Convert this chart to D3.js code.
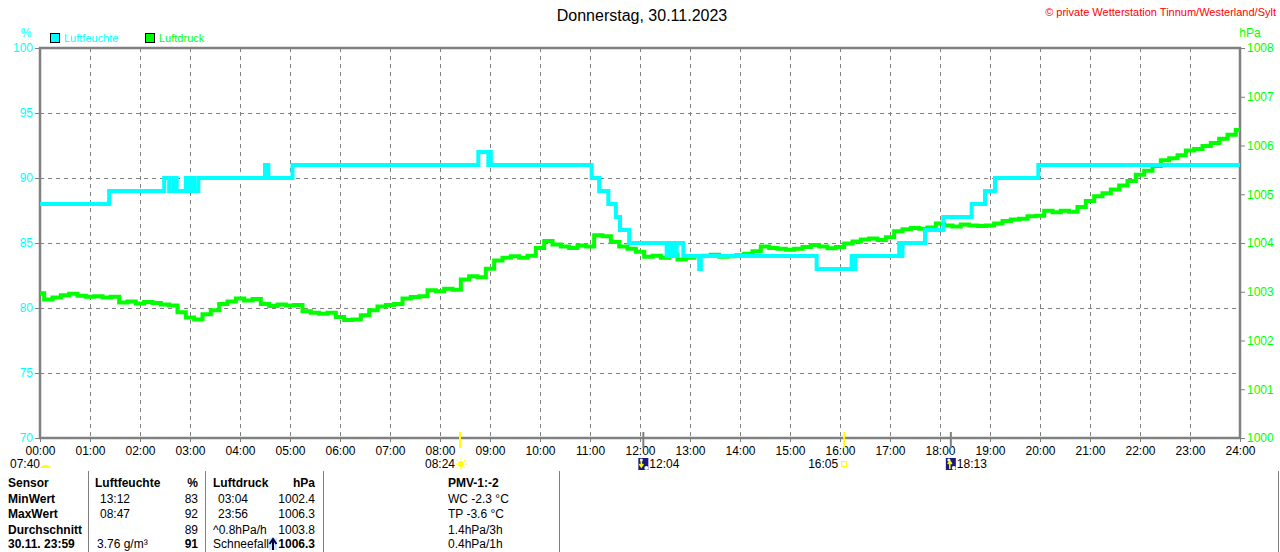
<!DOCTYPE html>
<html>
<head>
<meta charset="utf-8">
<script src="https://cdn.jsdelivr.net/npm/d3@7"></script>
<style>
  body { margin: 0; background: #fff; }
  svg { display: block; font-family: "Liberation Sans", Arial, sans-serif; }
</style>
</head>
<body>
<svg id="chart" width="1280" height="552"></svg>
<script>
// humidity steps (time, %)
const humTimes = ["00:00","01:23","02:29","02:35","02:40","02:44","02:55","02:58","03:01","03:05","03:10",
  "04:30","04:34","05:03","08:46","08:58","08:59","09:01","11:02","11:11","11:22","11:31","11:36","11:47",
  "12:32","12:34","12:36","12:38","12:41","12:44","12:52","12:58","13:11","13:13","15:32","16:14","16:16","16:18",
  "17:11","17:13","17:15","17:42","18:04","18:38","18:54","19:06","19:58","24:00"];
const humVals = [88,89,90,89,90,89,90,89,90,89,90,
  91,90,91,92,91,92,91,90,89,88,87,86,85,
  84,85,84,85,84,85,84,84,83,84,83,84,83,84,
  85,84,85,86,87,88,89,90,91,91];

// pressure, one value every 10 minutes from 00:00 to 24:00 (hPa)
const pressVals = [
  1002.97,1002.84,1002.88,1002.93,1002.96,1002.92,
  1002.90,1002.91,1002.88,1002.90,1002.78,1002.80,
  1002.76,1002.79,1002.77,1002.74,1002.72,1002.58,
  1002.47,1002.43,1002.54,1002.62,1002.75,1002.80,
  1002.86,1002.82,1002.85,1002.75,1002.71,1002.74,
  1002.72,1002.73,1002.60,1002.57,1002.55,1002.57,
  1002.48,1002.42,1002.43,1002.52,1002.62,1002.70,
  1002.73,1002.75,1002.86,1002.89,1002.91,1003.03,
  1003.01,1003.06,1003.04,1003.25,1003.32,1003.30,
  1003.47,1003.64,1003.70,1003.73,1003.70,1003.74,
  1003.90,1004.04,1003.97,1003.93,1003.90,1003.95,
  1003.93,1004.16,1004.14,1004.02,1003.93,1003.88,
  1003.82,1003.72,1003.74,1003.70,1003.76,1003.66,
  1003.70,1003.73,1003.74,1003.76,1003.72,1003.73,
  1003.75,1003.78,1003.83,1003.93,1003.90,1003.88,
  1003.86,1003.88,1003.92,1003.96,1003.93,1003.89,
  1003.92,1003.99,1004.03,1004.07,1004.09,1004.06,
  1004.12,1004.24,1004.28,1004.31,1004.29,1004.32,
  1004.40,1004.36,1004.34,1004.38,1004.36,1004.35,
  1004.36,1004.40,1004.45,1004.48,1004.50,1004.55,
  1004.56,1004.66,1004.63,1004.66,1004.64,1004.74,
  1004.86,1004.96,1005.02,1005.10,1005.18,1005.27,
  1005.40,1005.48,1005.58,1005.70,1005.74,1005.80,
  1005.90,1005.93,1005.99,1006.05,1006.14,1006.22,
  1006.32];

const humTicks = [70,75,80,85,90,95,100];
const pressTicks = [1000,1001,1002,1003,1004,1005,1006,1007,1008];
const hours = d3.range(0, 25);

// sun / moon events under the time axis
const events = [
  {time: "07:40", kind: "sunrise"},
  {time: "08:24", kind: "sun"},
  {time: "12:04", kind: "moondown"},
  {time: "16:05", kind: "sunset"},
  {time: "18:13", kind: "moonup"}
];

const tableHeader = ["Sensor", "Luftfeuchte", "%", "Luftdruck", "hPa"];
const tableRows = [
  ["MinWert", "13:12", "83", "03:04", "1002.4"],
  ["MaxWert", "08:47", "92", "23:56", "1006.3"],
  ["Durchschnitt", "", "89", "^0.8hPa/h", "1003.8"],
  ["30.11. 23:59", "3.76 g/m³", "91", "Schneefall", "1006.3"]
];
const pmvLines = ["PMV-1:-2", "WC -2.3 °C", "TP -3.6 °C", "1.4hPa/3h", "0.4hPa/1h"];

const toHours = t => { const [h, m] = t.split(":").map(Number); return h + m / 60; };

const svg = d3.select("#chart");
const grey = "#808080";
const cyan = "#00ffff";
const green = "#00ff00";
const small = "11px";

const x = d3.scaleLinear().domain([0, 24]).range([40, 1240]);
const yH = d3.scaleLinear().domain([70, 100]).range([438, 48]);
const yP = d3.scaleLinear().domain([1000, 1008]).range([438, 48]);

// title + copyright
svg.append("text").attr("x", 642).attr("y", 21).attr("text-anchor", "middle")
  .style("font-size", "16px").text("Donnerstag, 30.11.2023");
svg.append("text").attr("x", 1276).attr("y", 16).attr("text-anchor", "end")
  .style("font-size", small).attr("fill", "#ff0000")
  .text("© private Wetterstation Tinnum/Westerland/Sylt");

// legend
const legend = [{name: "Luftfeuchte", color: cyan, x: 50}, {name: "Luftdruck", color: green, x: 145}];
legend.forEach(l => {
  svg.append("rect").attr("x", l.x + 0.5).attr("y", 33.5).attr("width", 9).attr("height", 9)
    .attr("fill", l.color).attr("stroke", "#000");
  svg.append("text").attr("x", l.x + 14).attr("y", 42).attr("fill", l.color)
    .style("font-size", small).text(l.name);
});
svg.append("text").attr("x", 26).attr("y", 37).attr("text-anchor", "middle").attr("fill", cyan)
  .style("font-size", "12px").text("%");
svg.append("text").attr("x", 1250).attr("y", 37).attr("text-anchor", "middle").attr("fill", green)
  .style("font-size", "12px").text("hPa");

// grid
const grid = svg.append("g").attr("stroke", grey).attr("stroke-dasharray", "4,4").attr("stroke-width", 1);
grid.selectAll("line.v").data(hours.slice(1, 24)).join("line")
  .attr("x1", d => x(d) + 0.5).attr("x2", d => x(d) + 0.5).attr("y1", 48).attr("y2", 438);
grid.selectAll("line.h").data(humTicks.slice(1, 6)).join("line")
  .attr("x1", 40).attr("x2", 1240).attr("y1", d => yH(d) + 0.5).attr("y2", d => yH(d) + 0.5);

// axes
const styleAxis = (g, color) => {
  g.select(".domain").remove();
  g.selectAll("line").attr("stroke", grey);
  g.selectAll("text").attr("fill", color).style("font-size", "12px")
    .style("font-family", "Liberation Sans, Arial");
};
const left = svg.append("g").attr("transform", "translate(40,0)")
  .call(d3.axisLeft(yH).tickValues(humTicks).tickSize(5).tickPadding(2));
styleAxis(left, cyan);

const right = svg.append("g").attr("transform", "translate(1240,0)")
  .call(d3.axisRight(yP).tickValues(pressTicks).tickSize(5).tickPadding(2).tickFormat(d3.format("d")));
styleAxis(right, green);

const bottom = svg.append("g").attr("transform", "translate(0,438)")
  .call(d3.axisBottom(x).tickValues(hours).tickSize(4).tickPadding(4)
    .tickFormat(d => String(d).padStart(2, "0") + ":00"));
styleAxis(bottom, "#000");

// plot frame
svg.append("rect").attr("x", 40).attr("y", 48).attr("width", 1200).attr("height", 390)
  .attr("fill", "none").attr("stroke", grey).attr("stroke-width", 2.5);

// data lines
const humData = humTimes.map((t, i) => ({t: toHours(t), v: humVals[i]}));
const pressData = pressVals.map((v, i) => ({t: i / 6, v}));

svg.append("path").datum(pressData)
  .attr("fill", "none").attr("stroke", green).attr("stroke-width", 4)
  .attr("d", d3.line().x(d => x(d.t)).y(d => yP(d.v)).curve(d3.curveStep));

svg.append("path").datum(humData)
  .attr("fill", "none").attr("stroke", cyan).attr("stroke-width", 4)
  .attr("d", d3.line().x(d => x(d.t)).y(d => yH(d.v)).curve(d3.curveStepAfter));

// event markers and labels
const ev = svg.append("g").style("font-size", "12px");
events.forEach(e => {
  const ex = x(toHours(e.time));
  if (e.kind === "sun" || e.kind === "sunset") {
    ev.append("line").attr("x1", ex).attr("x2", ex).attr("y1", 432).attr("y2", 448)
      .attr("stroke", "#ffff00").attr("stroke-width", 2);
  }
  if (e.kind === "moondown" || e.kind === "moonup") {
    ev.append("line").attr("x1", ex).attr("x2", ex).attr("y1", 432).attr("y2", 448)
      .attr("stroke", grey).attr("stroke-width", 2);
  }
  if (e.kind === "sunrise") {
    ev.append("text").attr("x", 10).attr("y", 468).text(e.time);
    ev.append("path").attr("d", "M40,468 A6,5 0 0 1 51,468 Z").attr("fill", "#ffff00");
  } else if (e.kind === "sun") {
    ev.append("text").attr("x", ex - 5).attr("y", 468).attr("text-anchor", "end").text(e.time);
    const g = ev.append("g").attr("transform", `translate(${ex + 1},464)`);
    g.append("circle").attr("r", 3).attr("fill", "#ffff00");
    d3.range(8).forEach(k => {
      const a = k * Math.PI / 4;
      g.append("line").attr("x1", Math.cos(a) * 4).attr("y1", Math.sin(a) * 4)
        .attr("x2", Math.cos(a) * 6).attr("y2", Math.sin(a) * 6).attr("stroke", "#ffff00");
    });
  } else if (e.kind === "sunset") {
    ev.append("text").attr("x", ex - 6).attr("y", 468).attr("text-anchor", "end").text(e.time);
    ev.append("rect").attr("x", ex - 2.5).attr("y", 461.5).attr("width", 5).attr("height", 5)
      .attr("fill", "none").attr("stroke", "#ffff00");
  } else {
    const g = ev.append("g").attr("transform", `translate(${ex - 5},458)`);
    g.append("rect").attr("width", 10).attr("height", 12).attr("fill", "#1a1a80");
    g.append("circle").attr("cx", 8).attr("cy", 10).attr("r", 2).attr("fill", "#fff");
    g.append("circle").attr("cx", 3).attr("cy", 2).attr("r", 1.5).attr("fill", "#fff");
    const down = e.kind === "moondown";
    g.append("path").attr("d", down ? "M3,1 V8 M1,6 L3,9 L5,6" : "M4,11 V4 M2,6 L4,3 L6,6")
      .attr("stroke", "#ffff00").attr("stroke-width", 1.5).attr("fill", "none");
    ev.append("text").attr("x", ex + 6).attr("y", 468).text(e.time);
  }
});

// table at the bottom
const tbl = svg.append("g").style("font-size", "12px");
[88, 205, 323, 559, 1278].forEach(lx => {
  tbl.append("line").attr("x1", lx + 0.5).attr("x2", lx + 0.5).attr("y1", 471).attr("y2", 552)
    .attr("stroke", grey);
});

const rowY = [487, 502.5, 518, 533.5, 548];
const colX = [8, 95, 198, 213, 315];
const anchors = ["start", "start", "end", "start", "end"];
tableHeader.forEach((h, c) => {
  tbl.append("text").attr("x", colX[c]).attr("y", rowY[0]).attr("text-anchor", anchors[c])
    .attr("font-weight", "bold").text(h);
});
tableRows.forEach((row, r) => {
  row.forEach((cell, c) => {
    let cx = colX[c];
    if (c === 1 && r < 2) cx = 100;
    if (c === 3 && r < 2) cx = 218;
    if (c === 1 && r === 3) cx = 97;
    const bold = c === 0 || (r === 3 && (c === 2 || c === 4));
    tbl.append("text").attr("x", cx).attr("y", rowY[r + 1]).attr("text-anchor", anchors[c])
      .attr("font-weight", bold ? "bold" : "normal").text(cell);
  });
});
// trend arrow next to the last pressure value
tbl.append("rect").attr("x", 269).attr("y", 538).attr("width", 8).attr("height", 12).attr("fill", "#cfe8ff");
tbl.append("path").attr("d", "M273,550 V540 M269.5,544 L273,539 L276.5,544")
  .attr("stroke", "#000040").attr("stroke-width", 2).attr("fill", "none");

pmvLines.forEach((t, i) => {
  tbl.append("text").attr("x", 448).attr("y", rowY[i]).attr("font-weight", i === 0 ? "bold" : "normal").text(t);
});
</script>
</body>
</html>
